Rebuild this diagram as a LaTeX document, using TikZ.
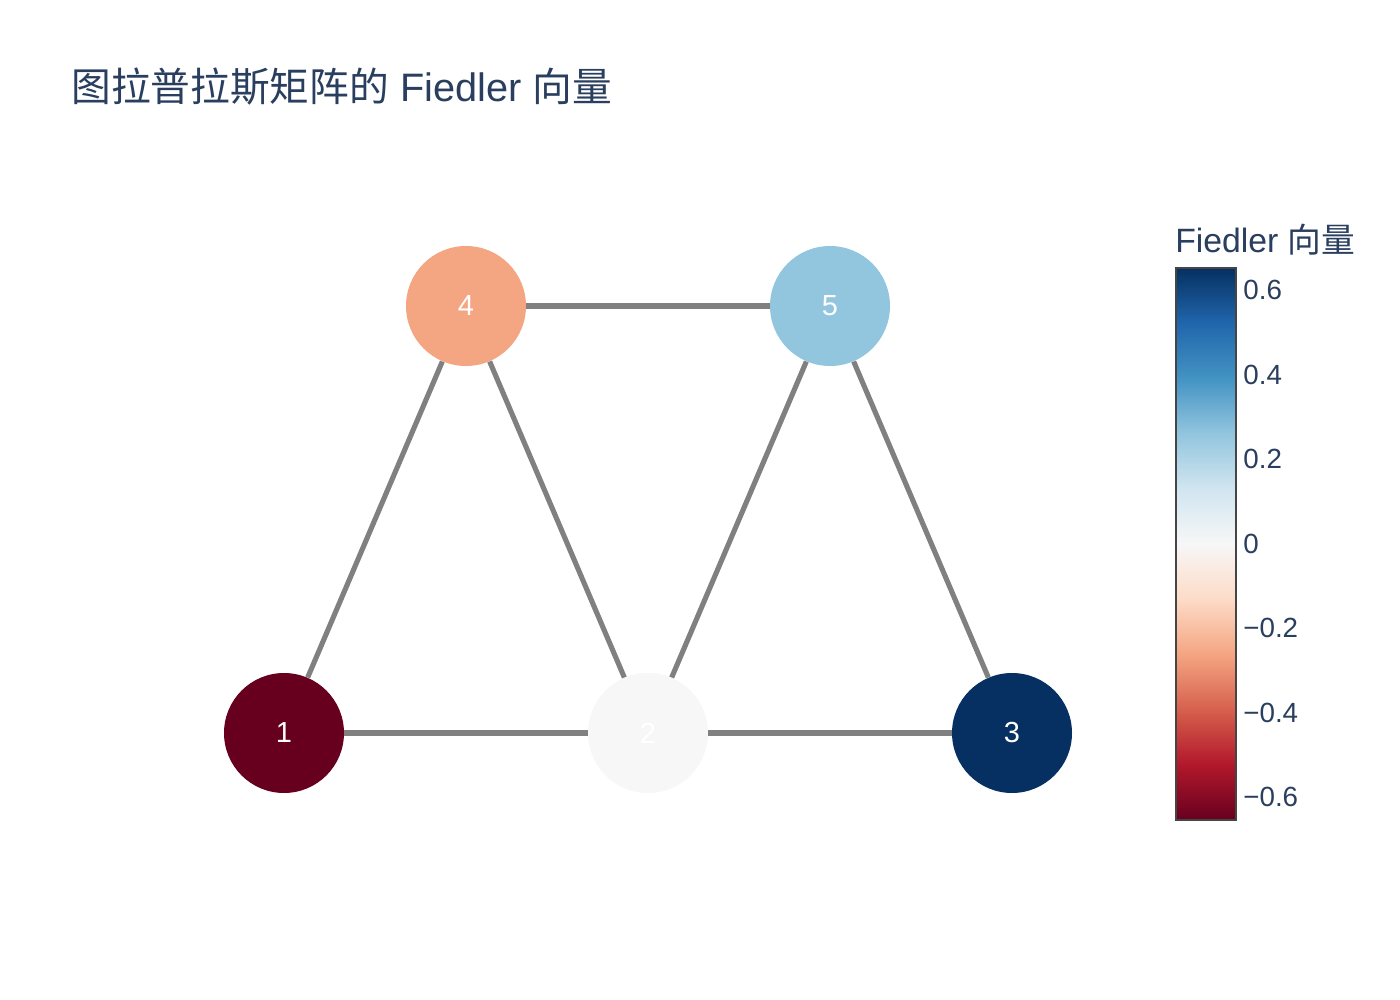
\documentclass[tikz,border=0pt]{standalone}
\usepackage{fontspec}
\setmainfont{Liberation Sans}
\newfontfamily\cjk{Noto Sans CJK SC}
\definecolor{titlec}{HTML}{2A3F5F}
\definecolor{edgec}{HTML}{808080}
\definecolor{rb0}{HTML}{67001F}
\definecolor{rb1}{HTML}{B2182B}
\definecolor{rb2}{HTML}{D6604D}
\definecolor{rb3}{HTML}{F4A582}
\definecolor{rb4}{HTML}{FDDBC7}
\definecolor{rb5}{HTML}{F7F7F7}
\definecolor{rb6}{HTML}{D1E5F0}
\definecolor{rb7}{HTML}{92C5DE}
\definecolor{rb8}{HTML}{4393C3}
\definecolor{rb9}{HTML}{2166AC}
\definecolor{rb10}{HTML}{053061}
\begin{document}
\begin{tikzpicture}[x=0.02cm,y=-0.02cm,
  vnode/.style={circle,minimum size=120*0.02cm,inner sep=0pt,text=white,
    font=\fontsize{16.5pt}{19pt}\selectfont},
  edge/.style={draw=edgec,line width=2.9pt},
  tick/.style={anchor=west,text=titlec,inner sep=0pt,font=\fontsize{15.8pt}{18pt}\selectfont}]
\useasboundingbox (0,0) rectangle (1400,1000);
\fill[white] (0,0) rectangle (1400,1000);
% title
\node[anchor=west,inner sep=0pt,text=titlec,font=\fontsize{22.6pt}{26pt}\selectfont] (title) at (71,87)
  {{\cjk 图拉普拉斯矩阵的} Fiedler {\cjk 向量}};
% nodes
\node[vnode,fill=rb0] (n1) at (284,733) {1};
\node[vnode,fill=rb5] (n2) at (648,733) {2};
\node[vnode,fill=rb10] (n3) at (1012,733) {3};
\node[vnode,fill=rb3] (n4) at (466,306) {4};
\node[vnode,fill=rb7] (n5) at (830,306) {5};
% edges
\path[edge] (n1) -- (n2);
\path[edge] (n2) -- (n3);
\path[edge] (n4) -- (n5);
\path[edge] (n1) -- (n4);
\path[edge] (n4) -- (n2);
\path[edge] (n2) -- (n5);
\path[edge] (n5) -- (n3);
% colorbar
\foreach \i [evaluate=\i as \j using int(\i+1)] in {0,...,9} {
  \shade[bottom color=rb\i, top color=rb\j, shading angle=0]
    (1176,{820-55.2*\i}) rectangle (1236,{820-55.2*(\i+1)});
}
\coordinate (cbtl) at (1176,268);
\coordinate (cbbr) at (1236,820);
\draw[draw=black!73,line width=1.2pt] (cbtl) rectangle (cbbr);
\node[anchor=west,inner sep=0pt,text=titlec,font=\fontsize{19.2pt}{22pt}\selectfont] (cbtitle) at (1175,240)
  {Fiedler {\cjk 向量}};
\node[tick] (t1) at (1243,290) {0.6};
\node[tick] (t2) at (1243,375) {0.4};
\node[tick] (t3) at (1243,459) {0.2};
\node[tick] (t4) at (1243,544) {0};
\node[tick] (t5) at (1243,628) {−0.2};
\node[tick] (t6) at (1243,713) {−0.4};
\node[tick] (t7) at (1243,797) {−0.6};
\end{tikzpicture}
\end{document}
